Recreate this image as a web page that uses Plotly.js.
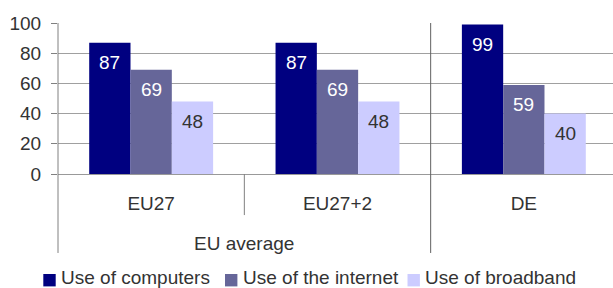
<!DOCTYPE html>
<html>
<head>
<meta charset="utf-8">
<script src="https://cdn.plot.ly/plotly-3.0.1.min.js"></script>
<style>
html,body{margin:0;padding:0;overflow:hidden;background:#fff;}
#chart{width:618px;height:288px;}
</style>
</head>
<body>
<div id="chart"></div>
<script>
var categories = ["EU27", "EU27+2", "DE"];
var outerLabel = "EU average";
var seriesNames = ["Use of computers", "Use of the internet", "Use of broadband"];
var computers = [87, 87, 99];
var internet = [69, 69, 59];
var broadband = [48, 48, 40];
var yTicks = [0, 20, 40, 60, 80, 100];

var seriesValues = [computers, internet, broadband];
var colors = ["#000080", "#666699", "#CCCCFF"];
var labelColors = ["#ffffff", "#ffffff", "#333333"];
var FONT = '"Liberation Sans", Arial, sans-serif';
var bargap = 0.335;

// plot-area geometry (px) used to place the hand-drawn legend
var PL = 58, PW = 559, PB = 174, PH = 151;
function px2x(p) { return (p - PL) / PW; }
function px2y(p) { return (PB - p) / PH; }
var legendSquareLeft = [43.3, 225, 407.5];
var legendSize = 12.4;
var legendTop = 274;

var traces = seriesValues.map(function (vals, i) {
  return {
    type: "bar",
    name: seriesNames[i],
    x: categories,
    y: vals,
    marker: { color: colors[i], line: { width: 0 } },
    hoverinfo: "none",
    showlegend: false
  };
});

var annotations = [];
var barFrac = (1 - bargap) / seriesValues.length;
seriesValues.forEach(function (vals, i) {
  vals.forEach(function (v, j) {
    annotations.push({
      xref: "x", yref: "y",
      x: j + (i - 1) * barFrac,
      y: v,
      yshift: -20,
      yanchor: "middle",
      text: String(v),
      showarrow: false,
      font: { family: FONT, size: 19, color: labelColors[i] }
    });
  });
});
annotations.push({
  xref: "x", yref: "paper",
  x: 0.5, y: -0.457,
  yanchor: "middle",
  text: outerLabel,
  showarrow: false,
  font: { family: FONT, size: 19, color: "#333333" }
});

var lineCol = "#808080";
var shapes = [
  { type: "line", xref: "paper", yref: "paper", x0: 0, x1: 0, y0: -0.523, y1: 1, line: { color: lineCol, width: 1 } },
  { type: "line", xref: "x", yref: "paper", x0: 0.5, x1: 0.5, y0: 0, y1: -0.272, line: { color: lineCol, width: 1 } },
  { type: "line", xref: "x", yref: "paper", x0: 1.5, x1: 1.5, y0: -0.523, y1: 1, line: { color: "#606060", width: 1 } }
];

// legend
seriesNames.forEach(function (name, i) {
  var sx = legendSquareLeft[i];
  shapes.push({
    type: "rect", xref: "paper", yref: "paper",
    x0: px2x(sx), x1: px2x(sx + legendSize),
    y0: px2y(legendTop + legendSize), y1: px2y(legendTop),
    fillcolor: colors[i], line: { width: 0 }
  });
  annotations.push({
    xref: "paper", yref: "paper",
    x: px2x(sx + legendSize + 3.5), xanchor: "left",
    y: px2y(legendTop + legendSize / 2 - 3.2), yanchor: "middle",
    text: name,
    showarrow: false,
    font: { family: FONT, size: 19, color: "#333333" }
  });
});

var layout = {
  width: 618,
  height: 288,
  margin: { l: PL, r: 618 - PL - PW, t: PB - PH, b: 288 - PB, autoexpand: false },
  paper_bgcolor: "#ffffff",
  plot_bgcolor: "#ffffff",
  barmode: "group",
  bargap: bargap,
  bargroupgap: 0,
  showlegend: false,
  font: { family: FONT, size: 19, color: "#333333" },
  xaxis: {
    type: "category",
    automargin: false,
    showgrid: false,
    showline: true,
    linecolor: "#999999",
    linewidth: 1,
    ticks: "",
    ticklabelstandoff: 12,
    tickfont: { family: FONT, size: 19, color: "#333333" },
    zeroline: false,
    fixedrange: true
  },
  yaxis: {
    range: [0, 100],
    automargin: false,
    tickvals: yTicks,
    ticktext: yTicks.map(String),
    showgrid: true,
    gridcolor: "#a0a0a0",
    gridwidth: 1,
    zeroline: false,
    showline: false,
    ticks: "outside",
    ticklen: 6,
    tickcolor: "#808080",
    ticklabelstandoff: 6,
    tickfont: { family: FONT, size: 19, color: "#333333" },
    fixedrange: true
  },
  annotations: annotations,
  shapes: shapes
};

Plotly.newPlot("chart", traces, layout, { displayModeBar: false, staticPlot: true });
</script>
</body>
</html>
